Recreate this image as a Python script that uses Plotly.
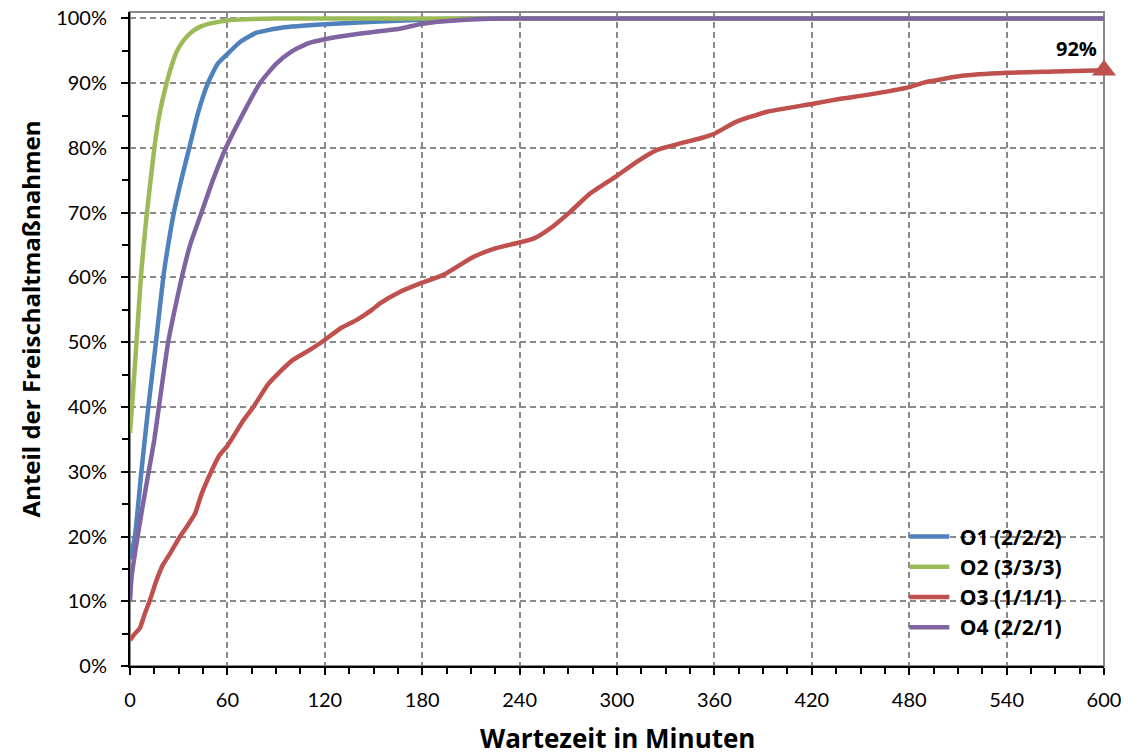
import plotly.graph_objects as go

# Wartezeit (Minuten) und kumulierter Anteil je Szenario
o1_min = [0, 3, 7, 11.3, 16, 20.5, 23.5, 27, 31.5, 36.5, 42, 48, 54, 60, 68, 78, 94, 120, 150, 180, 210, 600]
o1_val = [0.165, 0.20, 0.30, 0.40, 0.50, 0.60, 0.65, 0.70, 0.75, 0.80, 0.855, 0.90, 0.93, 0.945, 0.964, 0.978, 0.986, 0.991, 0.995, 0.998, 1.0, 1.0]

o2_min = [0, 1.5, 4, 7, 10, 15, 18, 22.5, 26, 29, 33, 37, 43, 49, 60, 75, 90, 600]
o2_val = [0.36, 0.41, 0.50, 0.61, 0.69, 0.80, 0.85, 0.90, 0.93, 0.95, 0.966, 0.977, 0.987, 0.992, 0.997, 0.999, 1.0, 1.0]

o3_min = [0, 3, 6, 9, 12.3, 16, 20, 25, 30.8, 35, 40, 44, 50, 55, 60, 70, 76, 85, 91.4, 100, 110, 118,
          130, 140, 149, 154, 166.5, 180, 193, 211.7, 225, 240, 248.6, 259, 271, 283.6, 300, 312.4,
          324.7, 339, 351.4, 360, 373, 392.5, 420, 437.7, 454, 480, 489, 511.7, 540, 570, 600]
o3_val = [0.040, 0.050, 0.058, 0.080, 0.102, 0.130, 0.155, 0.175, 0.200, 0.215, 0.235, 0.265, 0.300,
          0.325, 0.340, 0.380, 0.400, 0.435, 0.452, 0.472, 0.487, 0.500, 0.522, 0.535, 0.550, 0.560,
          0.578, 0.592, 0.604, 0.632, 0.645, 0.654, 0.660, 0.676, 0.701, 0.730, 0.757, 0.779, 0.797,
          0.807, 0.815, 0.822, 0.840, 0.856, 0.868, 0.876, 0.882, 0.894, 0.901, 0.911, 0.916, 0.918, 0.920]

o4_min = [0, 1, 4.7, 8, 11.5, 15, 17.8, 23.5, 27.5, 31.9, 37, 44, 51, 59, 69, 80, 90, 99, 110, 120, 140, 166, 180, 200, 230, 600]
o4_val = [0.10, 0.138, 0.20, 0.25, 0.30, 0.35, 0.40, 0.50, 0.55, 0.60, 0.65, 0.70, 0.75, 0.80, 0.85, 0.90, 0.93, 0.948, 0.962, 0.968, 0.976, 0.984, 0.992, 0.997, 1.0, 1.0]

series_names = ["O1 (2/2/2)", "O2 (3/3/3)", "O3 (1/1/1)", "O4 (2/2/1)"]
series_colors = ["#4F81BD", "#9BBB59", "#C0504D", "#8064A2"]

x_ticks = [0, 60, 120, 180, 240, 300, 360, 420, 480, 540, 600]
y_ticks = [0, 0.1, 0.2, 0.3, 0.4, 0.5, 0.6, 0.7, 0.8, 0.9, 1.0]

TICK_FONT = "Lato"
BOLD_FONT = "Open Sans"
GRID = "#8a8a8a"

fig = go.Figure()
for name, color, xs, ys in zip(series_names, series_colors,
                               [o1_min, o2_min, o3_min, o4_min],
                               [o1_val, o2_val, o3_val, o4_val]):
    fig.add_trace(go.Scatter(x=xs, y=ys, mode="lines", name="\u00a0" + name, legendgroup=name,
                             line=dict(color=color, width=4.5, shape="spline", smoothing=0.5)))

# Endwert O3 mit Markierung
fig.add_trace(go.Scatter(x=[o3_min[-1]], y=[o3_val[-1]], mode="markers", showlegend=False,
                         cliponaxis=False,
                         marker=dict(symbol="triangle-up", size=21, color=series_colors[2])))
fig.add_annotation(x=o3_min[-1], y=o3_val[-1], text=f"<b>{round(o3_val[-1]*100)}%</b>",
                   showarrow=False, xanchor="right", yanchor="bottom", xshift=-5, yshift=6,
                   font=dict(family=BOLD_FONT, size=20, color="black"))

# Rahmen des Diagrammbereichs
fig.add_shape(type="rect", xref="paper", yref="paper", x0=0, y0=0, x1=1, y1=1,
              line=dict(color=GRID, width=2), layer="below")

fig.update_xaxes(range=[0, 600], tickvals=x_ticks, ticktext=[str(v) for v in x_ticks],
                 showgrid=True, gridcolor=GRID, gridwidth=2, griddash="6px,4px",
                 showline=True, linecolor="black", linewidth=2,
                 ticks="outside", ticklen=7, tickwidth=2, tickcolor="black",
                 minor=dict(dtick=15, tick0=0, ticks="outside", ticklen=6, tickwidth=1.5,
                            tickcolor="black", showgrid=False),
                 tickfont=dict(family=TICK_FONT, size=20, color="black"),
                 ticklabelstandoff=8, zeroline=False, automargin=False)
fig.update_yaxes(range=[0, 1.01], tickvals=y_ticks, ticktext=[f"{int(round(v*100))}%" for v in y_ticks],
                 showgrid=True, gridcolor=GRID, gridwidth=2, griddash="6px,4px",
                 showline=True, linecolor="black", linewidth=2,
                 ticks="outside", ticklen=7, tickwidth=2, tickcolor="black",
                 minor=dict(dtick=0.05, tick0=0, ticks="outside", ticklen=6, tickwidth=1.5,
                            tickcolor="black", showgrid=False),
                 tickfont=dict(family=TICK_FONT, size=20, color="black"),
                 ticklabelstandoff=10, zeroline=False, automargin=False)

fig.add_annotation(xref="paper", yref="paper", x=0.5, y=0, yshift=-72, yanchor="middle",
                   text="<b>Wartezeit in Minuten</b>", showarrow=False,
                   font=dict(family=BOLD_FONT, size=26, color="black"))
fig.add_annotation(xref="paper", yref="paper", x=0, xshift=-100, y=0.53, xanchor="center",
                   text="<b>Anteil der Freischaltmaßnahmen</b>", showarrow=False, textangle=-90,
                   font=dict(family=BOLD_FONT, size=24, color="black"))

fig.update_layout(
    width=1130, height=756,
    margin=dict(l=130, r=26, t=12, b=90, autoexpand=False),
    paper_bgcolor="white", plot_bgcolor="white",
    showlegend=True,
    legend=dict(x=0.795, y=0.229, xanchor="left", yanchor="top",
                bgcolor="rgba(0,0,0,0)", itemwidth=40, tracegroupgap=0,
                font=dict(family=BOLD_FONT, size=21, color="black", weight="bold")),
)

fig.write_html("out.html")
